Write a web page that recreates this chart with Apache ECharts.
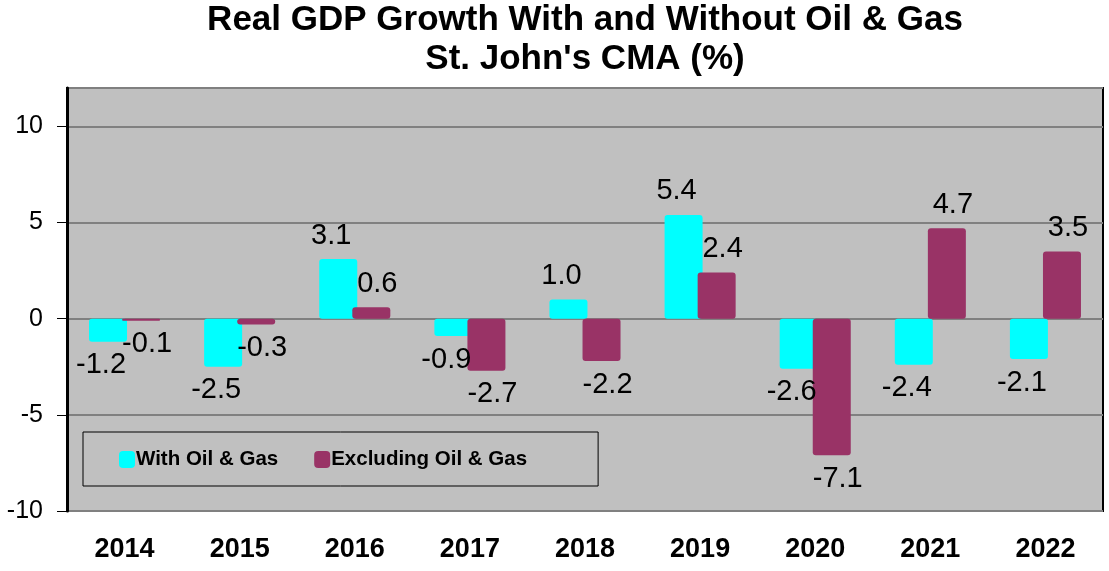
<!DOCTYPE html>
<html>
<head>
<meta charset="utf-8">
<title>Real GDP Growth</title>
<script src="https://cdn.jsdelivr.net/npm/echarts@6/dist/echarts.min.js"></script>
<style>
  html, body { margin: 0; padding: 0; background: #fff; }
  #container { width: 1109px; height: 571px; }
</style>
</head>
<body>
<div id="container"></div>
<script type="text/javascript">
// 数据
var years = ['2014', '2015', '2016', '2017', '2018', '2019', '2020', '2021', '2022'];
var withOilGas = [-1.2, -2.5, 3.1, -0.9, 1.0, 5.4, -2.6, -2.4, -2.1];
var excludingOilGas = [-0.1, -0.3, 0.6, -2.7, -2.2, 2.4, -7.1, 4.7, 3.5];
var seriesNames = ['With Oil & Gas', 'Excluding Oil & Gas'];

// label above positive bars, below negative ones
function withLabels(values, dx) {
  return values.map(function (v) {
    return {
      value: v,
      label: { position: v < 0 ? 'bottom' : 'top', offset: [dx, 0] }
    };
  });
}

var labelStyle = {
  show: true,
  distance: 9,
  fontSize: 29,
  color: '#000',
  fontFamily: 'Liberation Sans, Arial, sans-serif',
  formatter: function (p) { return p.value.toFixed(1); }
};

var myChart = echarts.init(document.getElementById('container'));
var option = {
  backgroundColor: '#fff',
  animation: false,
  title: {
    text: "Real GDP Growth With and Without Oil & Gas\nSt. John's CMA (%)",
    left: 580,
    textAlign: 'center',
    top: -4,
    textStyle: {
      fontSize: 35,
      fontWeight: 'bold',
      color: '#000',
      lineHeight: 39,
      fontFamily: 'Liberation Sans, Arial, sans-serif'
    }
  },
  legend: {
    data: seriesNames,
    left: 83,
    top: 432,
    orient: 'horizontal',
    padding: [17, 71, 16, 36],
    itemGap: 36,
    itemWidth: 16,
    itemHeight: 17,
    icon: 'roundRect',
    borderColor: '#000',
    borderWidth: 1,
    textStyle: {
      fontSize: 20.5,
      fontWeight: 'bold',
      color: '#000',
      padding: [0, 0, 0, -4],
      fontFamily: 'Liberation Sans, Arial, sans-serif'
    }
  },
  grid: {
    left: 67,
    right: 6,
    top: 88,
    bottom: 60,
    show: true,
    backgroundColor: '#C0C0C0',
    borderColor: '#000',
    borderWidth: 2
  },
  xAxis: {
    type: 'category',
    data: years,
    axisLine: { show: false },
    axisTick: { show: false },
    axisLabel: {
      margin: 25,
      fontSize: 27,
      fontWeight: 'bold',
      color: '#000',
      fontFamily: 'Liberation Sans, Arial, sans-serif'
    }
  },
  yAxis: {
    type: 'value',
    min: -10,
    max: 12,
    interval: 5,
    axisLine: { show: true, lineStyle: { color: '#000', width: 3 } },
    axisTick: { show: true, length: 10, lineStyle: { color: '#000', width: 1 } },
    splitLine: { show: true, lineStyle: { color: '#808080', width: 2 } },
    axisLabel: {
      showMaxLabel: false,
      margin: 24,
      fontSize: 25,
      color: '#000',
      fontFamily: 'Liberation Sans, Arial, sans-serif'
    }
  },
  series: [
    {
      name: seriesNames[0],
      type: 'bar',
      barWidth: 38,
      barGap: '-13%',
      itemStyle: { color: '#00FFFF', borderRadius: 3 },
      label: labelStyle,
      data: withLabels(withOilGas, -7)
    },
    {
      name: seriesNames[1],
      type: 'bar',
      barWidth: 38,
      itemStyle: { color: '#993366', borderRadius: 3 },
      label: labelStyle,
      data: withLabels(excludingOilGas, 6)
    }
  ]
};
myChart.setOption(option);
</script>
</body>
</html>
